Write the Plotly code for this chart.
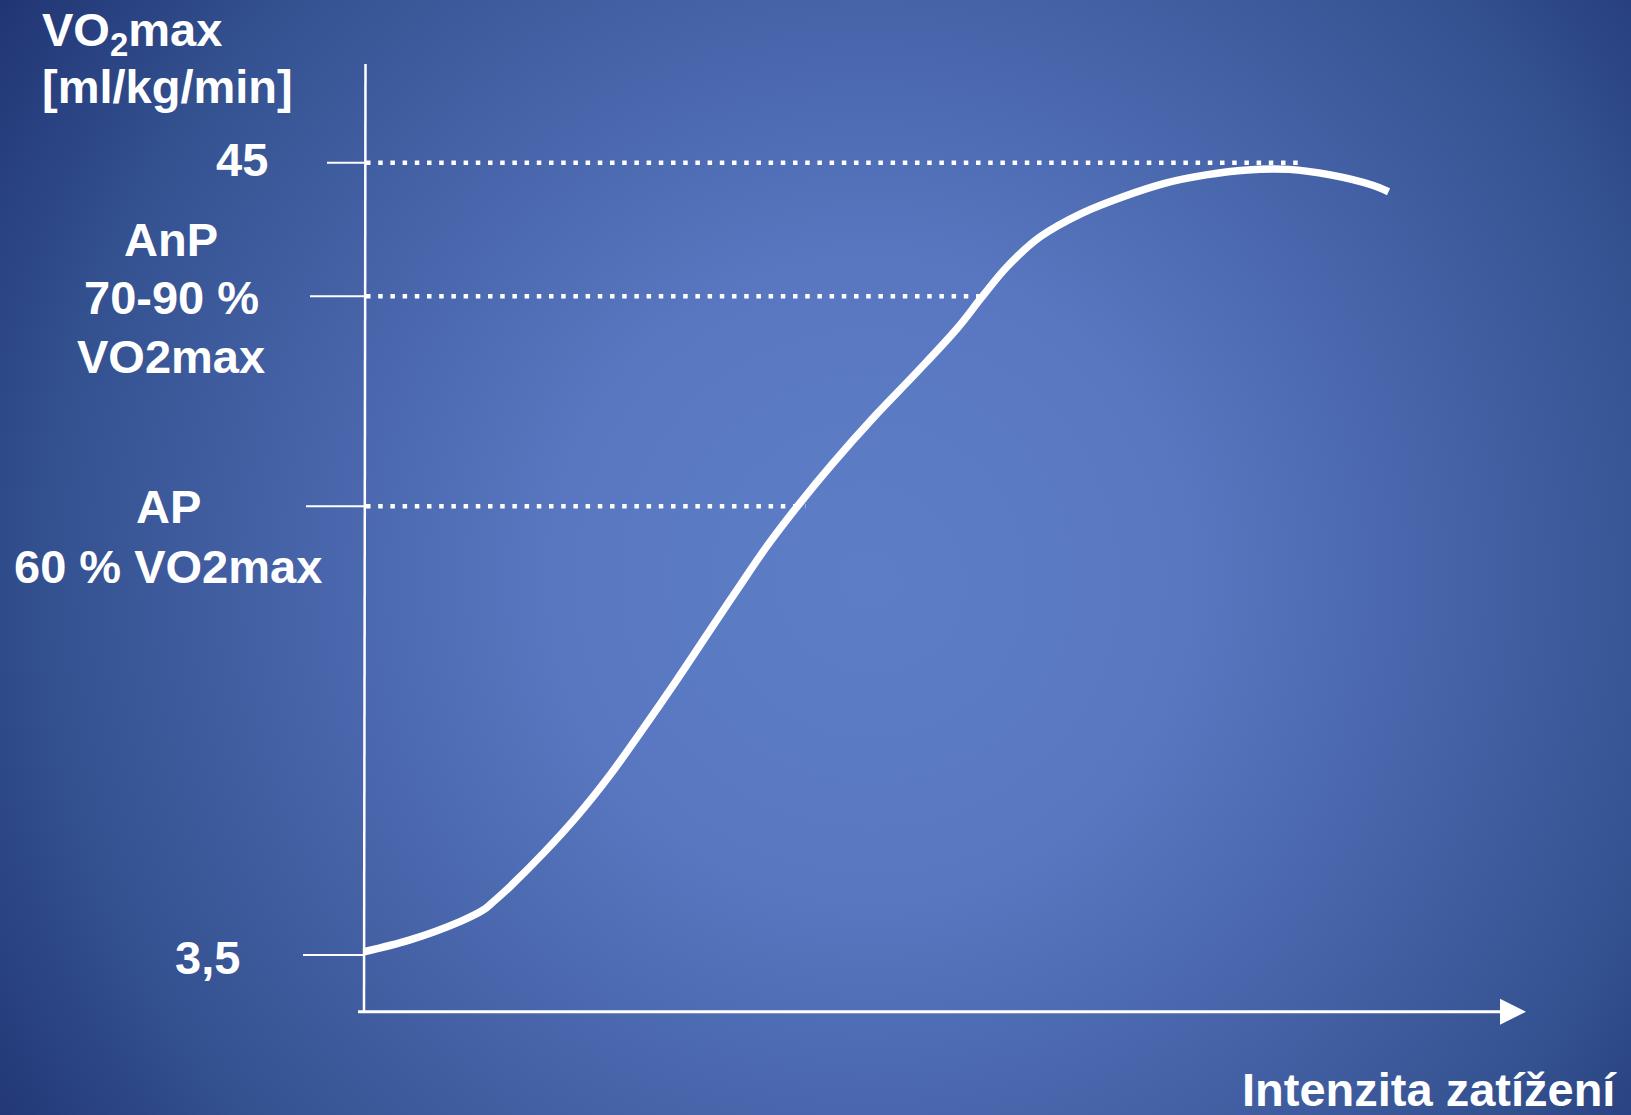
import base64
import plotly.graph_objects as go

# ---------------- data ----------------
# load intensity (arbitrary units 0..100) and VO2 (ml/kg/min)
curve_x = [0.0, 3.96, 8.26, 10.27, 11.13, 12.56, 15.43, 18.30, 21.17, 24.04, 26.91,
           29.78, 32.21, 34.65, 37.50, 40.35, 43.92, 47.49, 51.06, 53.20, 55.34,
           58.19, 61.76, 65.33, 68.90, 72.46, 76.03, 79.60, 83.17, 86.74, 88.17]
curve_y = [3.67, 4.29, 5.25, 5.86, 6.29, 7.08, 8.83, 10.75, 12.93, 15.37, 17.90,
           20.52, 22.72, 24.89, 27.16, 29.26, 31.70, 33.97, 36.33, 37.98, 39.55,
           41.12, 42.35, 43.22, 43.92, 44.36, 44.62, 44.65, 44.36, 43.83, 43.48]

# reference levels (VO2 values) and where their dotted guides end (intensity)
ref_levels = [45, 38, 27]
ref_x_end = [81.0, 53.3, 38.0]
tick_levels = [45, 38, 27, 3.5]
tick_label_lines = [["45"], ["AnP", "70-90 %", "VO2max"], ["AP", "60 % VO2max"], ["3,5"]]
y_title_lines = ["VO<sub>2</sub>max", "[ml/kg/min]"]
x_title = "Intenzita zatížení"
x_axis_end = 100.0

# ---------------- geometry (pixel mapping) ----------------
W, H = 1631, 1115
X0_PX, PX_PER_X = 364.0, 11.62          # x=0 at px 364
Y45_PX, PX_PER_Y = 162.7, 19.092        # y=45 at px 162.7

def px_x(px):
    return (px - X0_PX) / PX_PER_X

def px_y(py):
    return 45 - (py - Y45_PX) / PX_PER_Y

x_range = [px_x(0), px_x(W)]
y_range = [px_y(H), px_y(0)]

FONT = dict(family="Liberation Sans, Arial, sans-serif", size=47, color="white", weight="bold")

fig = go.Figure()

# dotted guide lines
for lvl, xe in zip(ref_levels, ref_x_end):
    fig.add_trace(go.Scatter(
        x=[px_x(366), xe], y=[lvl, lvl], mode="lines",
        line=dict(color="white", width=4.5, dash="4.5px,7.7px"),
        hoverinfo="skip", showlegend=False))

# main curve
fig.add_trace(go.Scatter(
    x=curve_x, y=curve_y, mode="lines",
    line=dict(color="white", width=7.5, shape="spline", smoothing=1.0),
    hoverinfo="skip", showlegend=False))

shapes = []
y_axis_bottom = px_y(1011.7)
y_axis_top = px_y(64)
# vertical axis
shapes.append(dict(type="line", xref="x", yref="y", x0=0, x1=px_x(365.5),
                   y0=y_axis_bottom, y1=y_axis_top, line=dict(color="white", width=2.5)))
# horizontal axis
arrow_base = px_x(1500)
shapes.append(dict(type="line", xref="x", yref="y", x0=px_x(358), x1=arrow_base,
                   y0=y_axis_bottom, y1=y_axis_bottom, line=dict(color="white", width=3)))
# arrow head
half_h = 13 / PX_PER_Y
shapes.append(dict(type="path", xref="x", yref="y",
                   path=f"M {arrow_base},{y_axis_bottom + half_h} L {x_axis_end},{y_axis_bottom} "
                        f"L {arrow_base},{y_axis_bottom - half_h} Z",
                   fillcolor="white", line=dict(color="white", width=0)))
# tick marks
tick_start_px = [327, 310, 306, 303]
for lvl, sp in zip(tick_levels, tick_start_px):
    shapes.append(dict(type="line", xref="x", yref="y", x0=px_x(sp), x1=0,
                       y0=lvl, y1=lvl, line=dict(color="white", width=2)))

annotations = []
def add_text(text, cx, cy, xanchor="center", align="center"):
    annotations.append(dict(text=text, x=cx / W, y=1 - cy / H, xref="paper", yref="paper",
                            xanchor=xanchor, yanchor="middle", align=align,
                            showarrow=False, font=FONT))

# y title
add_text(y_title_lines[0], 40, 33, xanchor="left", align="left")
add_text(y_title_lines[1], 40, 87, xanchor="left", align="left")
# tick labels (line by line)
label_centers_x = [242, 171, 168, 207]
label_line_y = [[159], [240, 298, 356], [506, 566], [957]]
for lines, cx, ys in zip(tick_label_lines, label_centers_x, label_line_y):
    for t, cy in zip(lines, ys):
        add_text(t, cx, cy)
# x title
add_text(x_title, 1429, 1089)

fig.update_layout(shapes=shapes, annotations=annotations)

# background radial gradient
svg = ('<svg xmlns="http://www.w3.org/2000/svg" width="1631" height="1115" viewBox="0 0 1631 1115">'
       '<defs><radialGradient id="g" gradientUnits="userSpaceOnUse" cx="870" cy="580" r="1060">'
       '<stop offset="0" stop-color="#5d7ec6"/>'
       '<stop offset="0.3" stop-color="#5877c0"/>'
       '<stop offset="0.55" stop-color="#4663a8"/>'
       '<stop offset="0.78" stop-color="#33508f"/>'
       '<stop offset="1" stop-color="#1f3372"/>'
       '</radialGradient></defs>'
       '<rect width="1631" height="1115" fill="url(#g)"/></svg>')
src = "data:image/svg+xml;base64," + base64.b64encode(svg.encode()).decode()

fig.update_layout(
    images=[dict(source=src, xref="paper", yref="paper", x=0, y=1, sizex=1, sizey=1,
                 xanchor="left", yanchor="top", sizing="stretch", layer="below")],
    width=W, height=H,
    margin=dict(l=0, r=0, t=0, b=0),
    paper_bgcolor="#3f5aa0", plot_bgcolor="rgba(0,0,0,0)",
    xaxis=dict(range=x_range, visible=False, fixedrange=True),
    yaxis=dict(range=y_range, visible=False, fixedrange=True),
    showlegend=False,
)

fig.write_html("out.html", config={"displayModeBar": False},
               post_script="document.body.style.margin='0px';document.body.style.overflow='hidden';")
